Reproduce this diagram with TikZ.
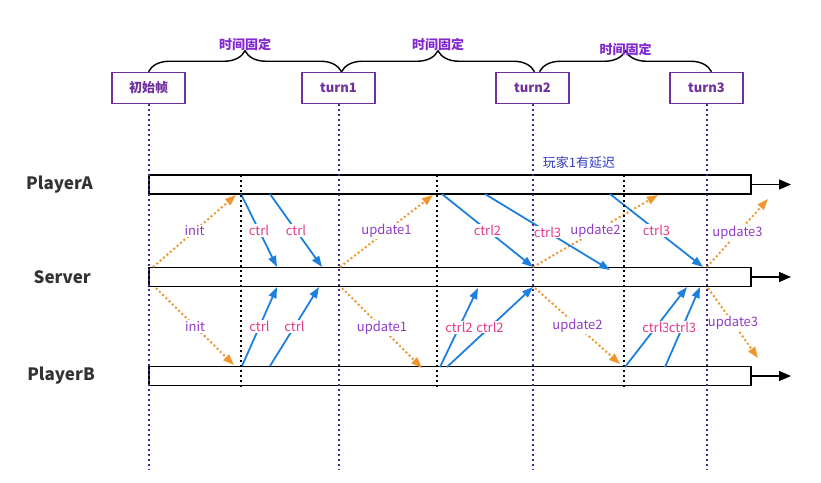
\documentclass[tikz,border=0pt]{standalone}
\usepackage{fontspec}
\setmainfont{Noto Sans CJK SC}
\usetikzlibrary{arrows.meta,decorations.pathreplacing,positioning}

\definecolor{boxpurple}{RGB}{112,48,160}
\definecolor{textpurple}{RGB}{130,40,210}
\definecolor{updpurple}{RGB}{145,60,200}
\definecolor{ctrlpink}{RGB}{225,60,140}
\definecolor{ctrlblue}{RGB}{30,128,222}
\definecolor{updorange}{RGB}{240,150,45}
\definecolor{lagblue}{RGB}{50,60,190}
\definecolor{lanegray}{RGB}{50,50,50}
\definecolor{dotpurple}{RGB}{70,40,140}

\begin{document}
\begin{tikzpicture}[x=1pt,y=-1pt]


\tikzset{turnbox/.style = {draw=boxpurple, line width=1.5pt, text=boxpurple,
                           font=\bfseries\fontsize{13}{15}\selectfont,
                           minimum width=73pt, minimum height=31pt, inner sep=0pt},
         lane/.style    = {draw=black, line width=1.5pt, minimum width=602pt,
                           minimum height=19pt, inner sep=0pt, anchor=west},
         lanename/.style= {text=lanegray, font=\bfseries\fontsize{17}{19}\selectfont, inner sep=0pt},
         timebrace/.style = {decorate, decoration={brace, amplitude=21pt}, line width=1.4pt},
         bracetext/.style = {text=textpurple, font=\bfseries\fontsize{13}{15}\selectfont},
         turnline/.style = {dotpurple, line width=2pt, dash pattern=on 2pt off 3pt},
         tickline/.style = {black, line width=2pt, dash pattern=on 2pt off 3pt},
         timeline/.style = {line width=1.5pt, -{Triangle[length=12pt,width=10pt]}},
         ctrl/.style     = {ctrlblue, line width=1.8pt, -{Triangle[length=11pt,width=8pt]}},
         upd/.style      = {updorange, line width=2pt, dash pattern=on 2pt off 2.5pt,
                            -{Triangle[length=11pt,width=8pt]}},
         ctrltext/.style = {text=ctrlpink, fill=white, inner sep=1pt, font=\fontsize{13}{15}\selectfont},
         updtext/.style  = {text=updpurple, fill=white, inner sep=1pt, font=\fontsize{13}{15}\selectfont}}

\useasboundingbox (0,0) rectangle (821,482);


% turns
\node[turnbox] (f0) at (148.5,88) {初始帧};
\node[turnbox] (t1) at (338.5,88) {turn1};
\node[turnbox] (t2) at (532.5,88) {turn2};
\node[turnbox] (t3) at (706.5,88) {turn3};

\draw[timebrace] (f0.north) -- node[bracetext, above=17pt] {时间固定} ([xshift=3pt]t1.north);
\draw[timebrace] ([xshift=3pt]t1.north) -- node[bracetext, above=17pt] {时间固定} ([xshift=2pt]t2.north);
\draw[timebrace] ([xshift=7pt]t2.north) -- node[bracetext, above=12pt] {时间固定} ([xshift=5pt]t3.north);


% lanes
\node[lane] (barA) at (148,184.5) {};
\node[lane] (barS) at (148,277) {};
\node[lane] (barB) at (148,376) {};

\node[lanename] (nameA) [left=55pt of barA] {PlayerA};
\node[lanename] (nameS) [left=57pt of barS] {Server};
\node[lanename] (nameB) [left=53pt of barB] {PlayerB};

\coordinate (endA) at (791,184.5);
\coordinate (endS) at (791,277);
\coordinate (endB) at (791,376);

\draw[timeline] (barA.east) -- (endA);
\draw[timeline] (barS.east) -- (endS);
\draw[timeline] (barB.east) -- (endB);

\node[text=lagblue, font=\fontsize{13}{15}\selectfont] (lag) at (579,163) {玩家1有延迟};


% points on the lanes
\coordinate (A0) at (236,195);
\coordinate (A1) at (433,195);
\coordinate (A2) at (658,195);
\coordinate (A3) at (768,199);
\coordinate (Ac1) at (241,194);
\coordinate (Ac2) at (270,194);
\coordinate (Ac3) at (442,194);
\coordinate (Ac4) at (485,194);
\coordinate (Ac5) at (610,194);

\coordinate (S0) at (153,267);
\coordinate (S1) at (340,267);
\coordinate (S2) at (533,267);
\coordinate (S3) at (707,267);
\coordinate (Sa1) at (277,267);
\coordinate (Sa2) at (322,267);
\coordinate (Sa3) at (533,267);
\coordinate (Sa4) at (610,270);
\coordinate (Sa5) at (703,267);

\coordinate (T0) at (156,288);
\coordinate (T1) at (342,288);
\coordinate (T2) at (535,288);
\coordinate (T3) at (708,288);
\coordinate (Tb1) at (277,287);
\coordinate (Tb2) at (319,287);
\coordinate (Tb3) at (478,288);
\coordinate (Tb4) at (533,287);
\coordinate (Tb5) at (687,287);
\coordinate (Tb6) at (700,287);

\coordinate (B0) at (234,365);
\coordinate (B1) at (422,368);
\coordinate (B2) at (620,364);
\coordinate (B3) at (758,358);
\coordinate (Bc1) at (242,366);
\coordinate (Bc2) at (270,366);
\coordinate (Bc3) at (440,367);
\coordinate (Bc4) at (447,367);
\coordinate (Bc5) at (625,367);
\coordinate (Bc6) at (665,367);


% server to players
\draw[upd] (S0) -- node[updtext] {init} (A0);
\draw[upd] (S1) -- node[updtext] {update1} (A1);
\draw[upd] (S2) -- node[updtext] {update2} (A2);
\draw[upd] (S3) -- node[updtext] {update3} (A3);

\draw[upd] (T0) -- node[updtext] {init} (B0);
\draw[upd] (T1) -- node[updtext] {update1} (B1);
\draw[upd] (T2) -- node[updtext] {update2} (B2);
\draw[upd] (T3) -- node[updtext] {update3} (B3);

% players to server
\draw[ctrl] (Ac1) -- node[ctrltext] {ctrl} (Sa1);
\draw[ctrl] (Ac2) -- node[ctrltext] {ctrl} (Sa2);
\draw[ctrl] (Ac3) -- node[ctrltext] {ctrl2} (Sa3);
\draw[ctrl] (Ac4) -- node[ctrltext] {ctrl3} (Sa4);
\draw[ctrl] (Ac5) -- node[ctrltext] {ctrl3} (Sa5);

\draw[ctrl] (Bc1) -- node[ctrltext] {ctrl} (Tb1);
\draw[ctrl] (Bc2) -- node[ctrltext] {ctrl} (Tb2);
\draw[ctrl] (Bc3) -- node[ctrltext] {ctrl2} (Tb3);
\draw[ctrl] (Bc4) -- node[ctrltext] {ctrl2} (Tb4);
\draw[ctrl] (Bc5) -- node[ctrltext] {ctrl3} (Tb5);
\draw[ctrl] (Bc6) -- node[ctrltext] {ctrl3} (Tb6);


% time marks
\draw[tickline] (241,175) -- (241,387);
\draw[tickline] (437,175) -- (437,387);
\draw[tickline] (624,175) -- (624,387);

\coordinate (f0end) at (148.5,470);
\coordinate (t1end) at (338.5,470);
\coordinate (t2end) at (532.5,470);
\coordinate (t3end) at (706.5,470);

\draw[turnline] (f0.south) -- (f0end);
\draw[turnline] (t1.south) -- (t1end);
\draw[turnline] (t2.south) -- (t2end);
\draw[turnline] (t3.south) -- (t3end);

\end{tikzpicture}
\end{document}
